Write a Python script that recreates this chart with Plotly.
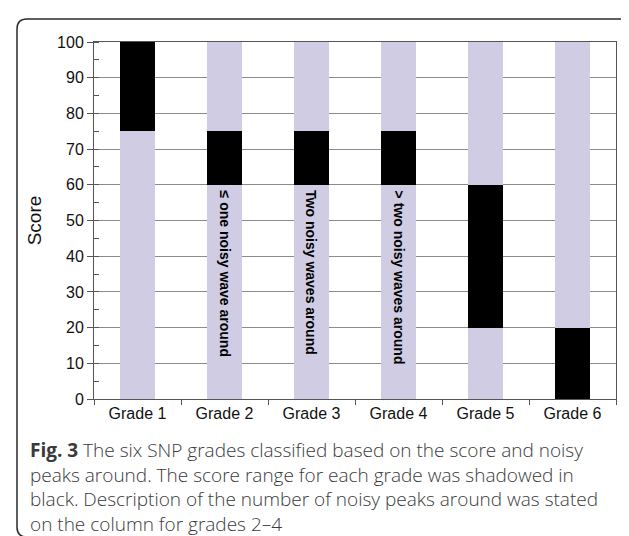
import plotly.graph_objects as go

grades = ["Grade 1", "Grade 2", "Grade 3", "Grade 4", "Grade 5", "Grade 6"]
black_low = [75, 60, 60, 60, 20, 0]
black_high = [100, 75, 75, 75, 60, 20]
score_max = 100
bar_labels = ["", "≤ one noisy wave around", "Two noisy waves around",
              "> two noisy waves around", "", ""]
y_ticks = [0, 10, 20, 30, 40, 50, 60, 70, 80, 90, 100]
caption = ("<b>Fig. 3</b> The six SNP grades classified based on the score and noisy<br>"
           "peaks around. The score range for each grade was shadowed in<br>"
           "black. Description of the number of noisy peaks around was stated<br>"
           "on the column for grades 2–4")

LAV = "#CFCCE4"
W, H = 629, 536
L, R, T, B = 86, 608, 34, 391  # plot area in pixels


def px(x):
    return (x - L) / (R - L)


def py(y):
    return (B - y) / (B - T)


lower = black_low
black = [h - l for h, l in zip(black_high, black_low)]
upper = [score_max - h for h in black_high]

fig = go.Figure()
fig.add_bar(x=grades, y=lower, marker=dict(color=LAV, line=dict(width=0)), width=0.41)
fig.add_bar(x=grades, y=black, marker=dict(color="#000000", line=dict(width=0)), width=0.41)
fig.add_bar(x=grades, y=upper, marker=dict(color=LAV, line=dict(width=0)), width=0.41)

for g, t in zip(grades, bar_labels):
    if t:
        fig.add_annotation(x=g, y=58.8, xref="x", yref="y", text="<b>" + t + "</b>",
                           textangle=90, showarrow=False, xanchor="center", yanchor="top",
                           font=dict(family="Liberation Sans, Arial", size=14, color="#000"),
                           borderpad=0)

# caption
fig.add_annotation(x=px(20), y=py(427), xref="paper", yref="paper", text=caption,
                   showarrow=False, xanchor="left", yanchor="top", align="left",
                   font=dict(family="Open Sans", size=19, color="#3a3a3a", weight=300))

# outer rounded frame
r = 10
x0, y0, x1, y1 = 9, 11, 633, 529
path = (f"M {px(x1)} {py(y0 + r)} Q {px(x1)} {py(y0)} {px(x1 - r)} {py(y0)} "
        f"L {px(x0 + r)} {py(y0)} "
        f"Q {px(x0)} {py(y0)} {px(x0)} {py(y0 + r)} "
        f"L {px(x0)} {py(y1 - r)} Q {px(x0)} {py(y1)} {px(x0 + r)} {py(y1)} "
        f"L {px(x1 - r)} {py(y1)} Q {px(x1)} {py(y1)} {px(x1)} {py(y1 - r)}")
fig.add_shape(type="path", xref="paper", yref="paper", path=path,
              line=dict(color="#2b2b2b", width=1.5))

fig.update_layout(
    width=W, height=H, barmode="stack", showlegend=False,
    margin=dict(l=L, r=W - R, t=T, b=H - B, pad=0),
    plot_bgcolor="white", paper_bgcolor="white",
    font=dict(family="Liberation Sans, Arial", color="#1a1a1a"),
    bargap=0.59,
)
fig.update_xaxes(type="category", tickson="boundaries", ticks="outside", ticklen=5,
                 tickcolor="#555", showline=True, linecolor="#555", linewidth=1,
                 mirror=True, showgrid=False, tickfont=dict(size=16, color="#111111"))
fig.update_yaxes(range=[0, score_max], tickvals=y_ticks, ticks="outside", ticklen=6,
                 tickcolor="#555", showline=True, linecolor="#555", linewidth=1,
                 mirror=True, showgrid=True, gridcolor="#8c8c8c", gridwidth=1,
                 zeroline=False, tickfont=dict(size=16, color="#111111"),
                 minor=dict(dtick=5, ticks="inside", ticklen=5, tickcolor="#555", showgrid=False),
                 title=dict(text="Score", font=dict(size=19, color="#111111"), standoff=10))

fig.write_html("out.html")
